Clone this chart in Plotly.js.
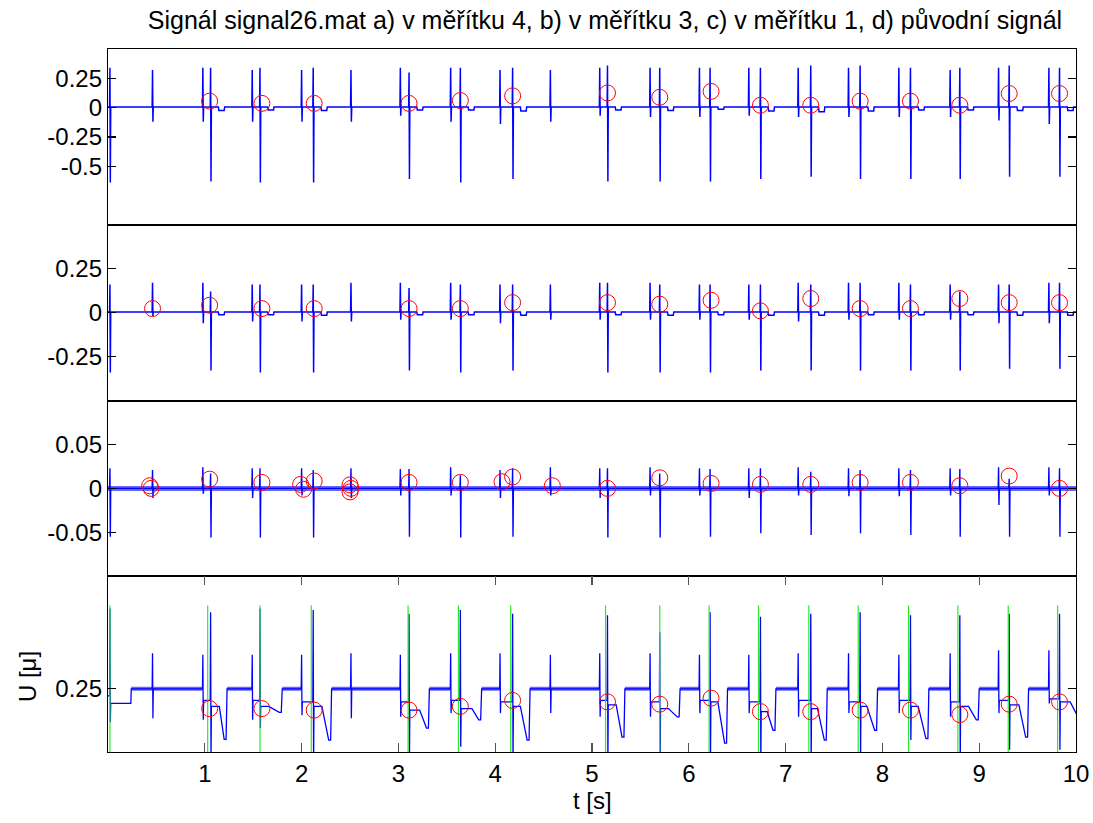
<!DOCTYPE html>
<html>
<head>
<meta charset="utf-8">
<script src="https://cdn.plot.ly/plotly-3.0.1.min.js"></script>
<style>html,body{margin:0;padding:0;background:#fff;}#chart{width:1093px;height:823px;}</style>
</head>
<body>
<div id="chart"></div>
<script>
// ---- data ----
const titleText = 'Signál signal26.mat a) v měřítku 4, b) v měřítku 3, c) v měřítku 1, d) původní signál';
const xTickVals = [1, 2, 3, 4, 5, 6, 7, 8, 9, 10];
const xTickText = ['1', '2', '3', '4', '5', '6', '7', '8', '9', '10'];
const yTicksA = [0.25, 0, -0.25, -0.5];
const yLabelsA = ['0.25', '0', '-0.25', '-0.5'];
const yTicksB = [0.25, 0, -0.25];
const yLabelsB = ['0.25', '0', '-0.25'];
const yTicksC = [0.05, 0, -0.05];
const yLabelsC = ['0.05', '0', '-0.05'];
const yTicksD = [0.25];
const yLabelsD = ['0.25'];

// spike times [s]
const spikeT = [0.02, 0.46, 0.98, 1.06, 1.49, 1.57, 2.00, 2.12, 2.51, 3.02, 3.11, 3.54, 3.64, 4.05, 4.18, 4.57, 5.08, 5.16, 5.60, 5.70, 6.11, 6.22, 6.62, 6.74, 7.13, 7.26, 7.65, 7.77, 8.17, 8.29, 8.70, 8.80, 9.20, 9.31, 9.72, 9.83];
const pairP = [0.98, 1.49, 2.00, 3.02, 3.54, 4.05, 5.08, 5.60, 6.11, 6.62, 7.13, 7.65, 8.17, 8.70, 9.20, 9.72];
const pairQ = [1.06, 1.57, 2.12, 3.11, 3.64, 4.18, 5.16, 5.70, 6.22, 6.74, 7.26, 7.77, 8.29, 8.80, 9.31, 9.83];

// a) scale 4
const aHi = [0.34, 0.32, 0.34, 0.34, 0.32, 0.34, 0.32, 0.34, 0.32, 0.34, 0.30, 0.34, 0.34, 0.32, 0.34, 0.32, 0.34, 0.36, 0.34, 0.34, 0.34, 0.34, 0.34, 0.34, 0.34, 0.36, 0.34, 0.36, 0.34, 0.34, 0.32, 0.34, 0.34, 0.36, 0.34, 0.34];
const aLo = [-0.64, -0.12, -0.12, -0.63, -0.12, -0.64, -0.12, -0.64, -0.12, -0.07, -0.61, -0.12, -0.64, -0.14, -0.61, -0.12, -0.07, -0.63, -0.08, -0.63, -0.08, -0.63, -0.07, -0.61, -0.08, -0.59, -0.08, -0.61, -0.08, -0.61, -0.08, -0.61, -0.11, -0.59, -0.14, -0.59];
const aBase = 0.005;
const aWave = [-0.025, -0.02, -0.025, -0.02, -0.02, -0.03, -0.02, -0.025, -0.015, -0.03, -0.035, -0.03, -0.02, -0.02, -0.025, -0.025];
const circAt = [1.05, 1.59, 2.13, 3.11, 3.64, 4.18, 5.16, 5.70, 6.23, 6.74, 7.26, 7.77, 8.29, 8.80, 9.31, 9.83];
const circAv = [0.055, 0.036, 0.036, 0.036, 0.06, 0.10, 0.125, 0.088, 0.138, 0.02, 0.02, 0.055, 0.055, 0.02, 0.12, 0.12];

// b) scale 3
const bHi = [0.16, 0.17, 0.17, 0.12, 0.16, 0.16, 0.16, 0.16, 0.17, 0.17, 0.14, 0.17, 0.16, 0.16, 0.16, 0.16, 0.17, 0.17, 0.17, 0.16, 0.16, 0.16, 0.16, 0.16, 0.17, 0.16, 0.17, 0.17, 0.17, 0.16, 0.16, 0.12, 0.16, 0.16, 0.17, 0.17];
const bLo = [-0.34, -0.02, -0.06, -0.33, -0.05, -0.34, -0.05, -0.34, -0.05, -0.04, -0.33, -0.04, -0.34, -0.06, -0.33, -0.04, -0.04, -0.34, -0.04, -0.34, -0.04, -0.34, -0.04, -0.33, -0.05, -0.33, -0.04, -0.33, -0.04, -0.33, -0.04, -0.33, -0.06, -0.32, -0.06, -0.32];
const bBase = 0.003;
const bWave = [-0.012, -0.012, -0.015, -0.012, -0.012, -0.015, -0.012, -0.015, -0.012, -0.015, -0.015, -0.012, -0.012, -0.012, -0.015, -0.015];
const circBt = [0.46, 1.05, 1.59, 2.13, 3.11, 3.64, 4.18, 5.16, 5.70, 6.23, 6.74, 7.26, 7.77, 8.29, 8.80, 9.31, 9.83];
const circBv = [0.023, 0.042, 0.023, 0.023, 0.023, 0.023, 0.057, 0.057, 0.048, 0.07, 0.01, 0.08, 0.023, 0.023, 0.08, 0.057, 0.057];

// c) scale 1
const cHi = [0.023, 0.021, 0.024, 0.017, 0.023, 0.023, 0.023, 0.021, 0.023, 0.022, 0.022, 0.024, 0.015, 0.021, 0.023, 0.024, 0.023, 0.023, 0.024, 0.017, 0.023, 0.022, 0.023, 0.023, 0.024, 0.019, 0.023, 0.021, 0.023, 0.021, 0.023, 0.022, 0.024, 0.011, 0.024, 0.023];
const cLo = [-0.055, -0.011, -0.006, -0.056, -0.011, -0.056, -0.008, -0.056, -0.011, -0.008, -0.055, -0.008, -0.056, -0.011, -0.055, -0.008, -0.011, -0.056, -0.008, -0.056, -0.008, -0.055, -0.011, -0.051, -0.008, -0.053, -0.009, -0.051, -0.009, -0.053, -0.008, -0.055, -0.019, -0.055, -0.008, -0.055];
const cBase = 0;
const cRipple = [0, 10];
const circCt = [0.43, 0.445, 1.05, 1.59, 1.99, 2.02, 2.13, 2.50, 2.51, 2.50, 3.11, 3.64, 4.07, 4.18, 4.59, 5.16, 5.70, 6.23, 6.74, 7.26, 7.77, 8.29, 8.80, 9.31, 9.83];
const circCv = [0.003, 0.0, 0.0105, 0.0068, 0.0045, -0.001, 0.0083, 0.004, 0.0, -0.004, 0.0068, 0.0068, 0.0075, 0.013, 0.003, 0.0, 0.012, 0.0056, 0.0045, 0.0045, 0.0068, 0.0068, 0.003, 0.014, 0.0];

// d) original signal
const dHi = [0.357, 0.297, 0.295, 0.352, 0.295, 0.357, 0.295, 0.355, 0.297, 0.295, 0.350, 0.297, 0.355, 0.297, 0.350, 0.295, 0.297, 0.348, 0.297, 0.325, 0.295, 0.352, 0.295, 0.346, 0.297, 0.350, 0.297, 0.352, 0.295, 0.348, 0.297, 0.348, 0.301, 0.350, 0.301, 0.350];
const dLo = [0.205, 0.210, 0.208, 0.150, 0.208, 0.197, 0.214, 0.150, 0.210, 0.212, 0.150, 0.217, 0.172, 0.217, 0.150, 0.217, 0.212, 0.150, 0.212, 0.150, 0.217, 0.150, 0.217, 0.150, 0.212, 0.150, 0.217, 0.150, 0.217, 0.181, 0.212, 0.150, 0.217, 0.168, 0.230, 0.168];
const dStart = 0.24;
const dInit = 0.23;
const dInitRise = 0.24;
const dRest = 0.2495;
const dPre = [0.234, 0.234, 0.232, 0.232, 0.234, 0.232, 0.234, 0.232, 0.234, 0.232, 0.234, 0.232, 0.234, 0.232, 0.234, 0.236];
const dPost = [0.226, 0.226, 0.226, 0.221, 0.223, 0.226, 0.228, 0.223, 0.232, 0.219, 0.223, 0.226, 0.226, 0.226, 0.228, 0.232];
const dDipStart = [1.15, 1.66, 2.21, 3.22, 3.76, 4.26, 5.25, 5.79, 6.30, 6.81, 7.33, 7.84, 8.37, 8.89, 9.41, 9.94];
const dDip = [0.182, 0.218, 0.181, 0.197, 0.208, 0.181, 0.185, 0.212, 0.177, 0.194, 0.181, 0.194, 0.183, 0.208, 0.185, 0.212];
const dRise = [1.23, 1.80, 2.31, 3.32, 3.86, 4.36, 5.34, 5.91, 6.40, 6.90, 7.43, 7.95, 8.48, 9.00, 9.51, 10.05];
const circDt = [1.05, 1.59, 2.13, 3.11, 3.64, 4.18, 5.16, 5.70, 6.23, 6.74, 7.26, 7.77, 8.29, 8.80, 9.31, 9.83];
const circDv = [0.223, 0.223, 0.221, 0.221, 0.226, 0.234, 0.232, 0.229, 0.237, 0.219, 0.219, 0.221, 0.221, 0.215, 0.229, 0.232];
const greenT = [0.02, 1.03, 1.57, 2.10, 3.10, 3.62, 4.16, 5.14, 5.70, 6.21, 6.72, 7.24, 7.75, 8.27, 8.78, 9.30, 9.81];
const greenTop = 0.361;
const greenBottom = 0.15;

// ---- building traces ----
const W = 0.004;
function spikeLine(hi, lo, base, wave) {
  const x = [0], y = [base];
  spikeT.forEach((t, i) => {
    x.push(t - W, t, t + W, t + 2 * W);
    y.push(base, hi[i], lo[i], base);
    const q = pairQ.indexOf(t);
    if (wave && q >= 0) {
      x.push(t + 0.08, t + 0.085, t + 0.14, t + 0.145);
      y.push(base, wave[q], wave[q], base);
    }
  });
  x.push(10); y.push(base);
  return {x, y};
}
function buildD() {
  const x = [], y = [], bx = [], by = [];
  const add = (t, v) => { x.push(t); y.push(v); };
  let cur = dStart, bandStart = null;
  add(0, cur);
  spikeT.forEach((t, i) => {
    if (bandStart !== null) { bx.push(bandStart, t - W, null); by.push(dRest, dRest, null); bandStart = null; }
    add(t - W, cur); add(t, dHi[i]); add(t + W, dLo[i]);
    const k = pairP.indexOf(t), q = pairQ.indexOf(t);
    if (k >= 0) { cur = dPre[k]; add(t + 2 * W, cur); }
    else if (q >= 0) {
      add(t + 2 * W, dPost[q]); add(dDipStart[q], dPost[q]);
      add(dRise[q] - 0.03, dDip[q]); add(dRise[q] - 0.01, dDip[q]);
      add(dRise[q], dRest); cur = dRest; bandStart = dRise[q];
    } else if (i === 0) {
      cur = dInit; add(t + 2 * W, cur); add(dInitRise - W, cur); add(dInitRise, dRest);
      cur = dRest; bandStart = dInitRise;
    } else {
      add(t + 2 * W, cur); if (cur === dRest) bandStart = t + 2 * W;
    }
  });
  add(10, cur);
  if (bandStart !== null) { bx.push(bandStart, 10); by.push(dRest, dRest); }
  return {x, y, bx, by};
}
function greenLines() {
  const x = [], y = [];
  greenT.forEach(t => { x.push(t, t, null); y.push(greenTop, greenBottom, null); });
  return {x, y};
}

const BLUE = 'rgb(0,0,255)';
const sa = spikeLine(aHi, aLo, aBase, aWave);
const sb = spikeLine(bHi, bLo, bBase, bWave);
const sc = spikeLine(cHi, cLo, cBase, null);
const sd = buildD();
const gl = greenLines();
const circ = (x, y, xa, ya) => ({x, y, xaxis: xa, yaxis: ya, type: 'scatter', mode: 'markers', hoverinfo: 'skip',
  marker: {symbol: 'circle-open', size: 16, color: 'rgb(255,0,0)', line: {width: 1, color: 'rgb(255,0,0)'}}});

const traces = [
  {x: sa.x, y: sa.y, xaxis: 'x', yaxis: 'y', type: 'scatter', mode: 'lines', line: {color: BLUE, width: 1.5}},
  circ(circAt, circAv, 'x', 'y'),
  {x: sb.x, y: sb.y, xaxis: 'x2', yaxis: 'y2', type: 'scatter', mode: 'lines', line: {color: BLUE, width: 1.5}},
  circ(circBt, circBv, 'x2', 'y2'),
  {x: cRipple, y: [cBase, cBase], xaxis: 'x3', yaxis: 'y3', type: 'scatter', mode: 'lines', line: {color: 'rgba(0,0,255,0.6)', width: 5}},
  {x: sc.x, y: sc.y, xaxis: 'x3', yaxis: 'y3', type: 'scatter', mode: 'lines', line: {color: BLUE, width: 1.4}},
  circ(circCt, circCv, 'x3', 'y3'),
  {x: sd.bx, y: sd.by, xaxis: 'x4', yaxis: 'y4', type: 'scatter', mode: 'lines', connectgaps: false, line: {color: 'rgba(0,0,255,0.6)', width: 4}},
  {x: sd.x, y: sd.y, xaxis: 'x4', yaxis: 'y4', type: 'scatter', mode: 'lines', line: {color: BLUE, width: 1.3}},
  {x: gl.x, y: gl.y, xaxis: 'x4', yaxis: 'y4', type: 'scatter', mode: 'lines', connectgaps: false, line: {color: 'rgb(40,235,40)', width: 1.2}},
  circ(circDt, circDv, 'x4', 'y4')
];

const FONT = 'Liberation Sans, Arial, Helvetica, sans-serif';
const xBase = (anchor) => ({domain: [0, 1], range: [0, 10], anchor, showline: true, mirror: true, linecolor: '#000', linewidth: 1,
  ticks: '', showticklabels: false, showgrid: false, zeroline: false, fixedrange: true});
const yBase = (domain, range, vals, text, anchor) => ({domain, range, anchor, tickvals: vals, ticktext: text, ticks: 'inside', ticklen: 8,
  tickcolor: '#000', tickwidth: 1.3, showline: true, mirror: 'ticks', linecolor: '#000', linewidth: 1.2, showgrid: false, zeroline: false,
  tickfont: {family: FONT, size: 24, color: '#000'}});

const x4 = Object.assign(xBase('y4'), {ticks: 'inside', ticklen: 9, tickcolor: '#555', tickwidth: 1.3, mirror: 'ticks',
  showticklabels: true, tickvals: xTickVals, ticktext: xTickText, tickfont: {family: FONT, size: 24, color: '#000'}});

const layout = {
  width: 1093, height: 823,
  margin: {l: 108, r: 17, t: 49, b: 71, pad: 0},
  paper_bgcolor: '#fff', plot_bgcolor: '#fff',
  showlegend: false,
  font: {family: FONT, color: '#000'},
  title: {text: titleText, font: {family: FONT, size: 25, color: '#000'}, x: 0.5535, xref: 'container', xanchor: 'center', y: 0.975, yref: 'container', yanchor: 'middle'},
  xaxis: xBase('y'), xaxis2: xBase('y2'), xaxis3: xBase('y3'), xaxis4: x4,
  yaxis: yBase([0.75, 1], [-1, 0.5], yTicksA, yLabelsA, 'x'),
  yaxis2: yBase([0.5, 0.75], [-0.5, 0.5], yTicksB, yLabelsB, 'x2'),
  yaxis3: yBase([0.25, 0.5], [-0.1, 0.1], yTicksC, yLabelsC, 'x3'),
  yaxis4: yBase([0, 0.25], [0.165, 0.4], yTicksD, yLabelsD, 'x4'),
  annotations: [
    {text: 't [s]', xref: 'paper', yref: 'paper', x: 0.5, y: -0.0683, xanchor: 'center', yanchor: 'middle', showarrow: false, font: {family: FONT, size: 24, color: '#000'}},
    {text: 'U [μ]', xref: 'paper', yref: 'paper', x: -0.0837, y: 0.108, xanchor: 'center', yanchor: 'middle', textangle: -90, showarrow: false, font: {family: FONT, size: 24, color: '#000'}}
  ]
};

Plotly.newPlot('chart', traces, layout, {displayModeBar: false, staticPlot: true});
</script>
</body>
</html>
